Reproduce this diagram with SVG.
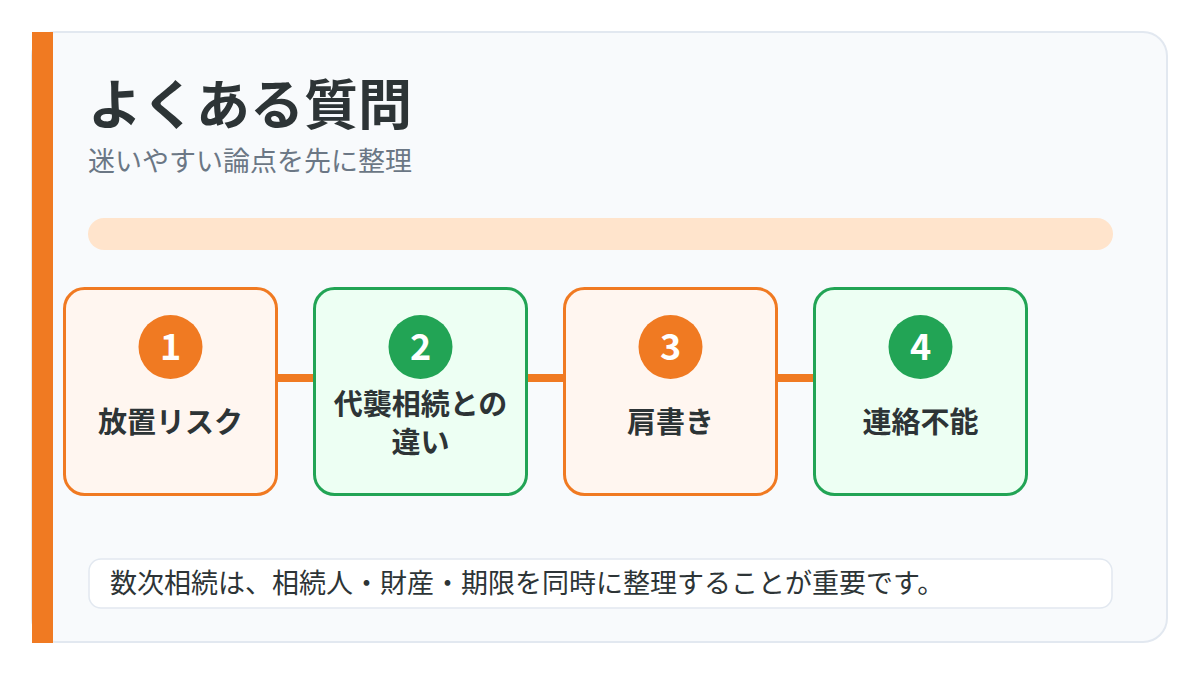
<svg xmlns="http://www.w3.org/2000/svg" width="1200" height="675" viewBox="0 0 1200 675">
  <style>
    .jp { font-family: "Noto Sans CJK JP", "Noto Sans", sans-serif; }
    .title { font-size: 54px; font-weight: 700; fill: #2d3436; }
    .sub { font-size: 27px; font-weight: 400; fill: #6b7785; }
    .boxO { fill: #fff6f0; stroke: #f07a22; stroke-width: 3; }
    .boxG { fill: #edfff3; stroke: #22a455; stroke-width: 3; }
    .circO { fill: #f07a22; }
    .circG { fill: #22a455; }
    .num { font-family: "Noto Sans CJK JP", "Noto Sans", sans-serif; font-size: 36px; font-weight: 700; fill: #ffffff; text-anchor: middle; }
    .label { font-size: 29px; font-weight: 700; fill: #2d3436; text-anchor: middle; }
    .conn { stroke: #f07a22; stroke-width: 8; fill: none; }
    .note { font-size: 27px; font-weight: 400; fill: #2d3436; }
  </style>
  <rect x="0" y="0" width="1200" height="675" fill="#ffffff"/>
  <g id="card">
    <rect x="32" y="32" width="1135" height="610" rx="24" fill="#f8fafc" stroke="#e2e8f0" stroke-width="2"/>
    <rect x="32" y="32" width="21" height="611" fill="#f07a22"/>
  </g>
  <g id="header">
    <text class="jp title" x="88" y="125">よくある質問</text>
    <text class="jp sub" x="88" y="171">迷いやすい論点を先に整理</text>
  </g>
  <g id="progress">
    <rect x="88" y="218" width="1025" height="32" rx="16" fill="#ffe4cc"/>
  </g>
  <g id="connectors">
    <line class="conn" x1="277" y1="378" x2="314" y2="378"/>
    <line class="conn" x1="527" y1="378" x2="564" y2="378"/>
    <line class="conn" x1="777" y1="378" x2="814" y2="378"/>
  </g>
  <g id="node1">
    <rect class="boxO" x="64.5" y="288.5" width="212" height="206" rx="20"/>
    <circle class="circO" cx="170.5" cy="347" r="32"/>
    <text class="num" x="170.5" y="360">1</text>
    <text class="jp label" x="170.5" y="433">放置リスク</text>
  </g>
  <g id="node2">
    <rect class="boxG" x="314.5" y="288.5" width="212" height="206" rx="20"/>
    <circle class="circG" cx="420.5" cy="347" r="32"/>
    <text class="num" x="420.5" y="360">2</text>
    <text class="jp label" x="420.5" y="415">代襲相続との</text>
    <text class="jp label" x="420.5" y="453">違い</text>
  </g>
  <g id="node3">
    <rect class="boxO" x="564.5" y="288.5" width="212" height="206" rx="20"/>
    <circle class="circO" cx="670.5" cy="347" r="32"/>
    <text class="num" x="670.5" y="360">3</text>
    <text class="jp label" x="670.5" y="433">肩書き</text>
  </g>
  <g id="node4">
    <rect class="boxG" x="814.5" y="288.5" width="212" height="206" rx="20"/>
    <circle class="circG" cx="920.5" cy="347" r="32"/>
    <text class="num" x="920.5" y="360">4</text>
    <text class="jp label" x="920.5" y="433">連絡不能</text>
  </g>
  <g id="note">
    <rect x="89" y="559" width="1023" height="49" rx="12" fill="#ffffff" stroke="#e2e8f0" stroke-width="1.5"/>
    <text class="jp note" x="110" y="593">数次相続は、相続人・財産・期限を同時に整理することが重要です。</text>
  </g>
</svg>
